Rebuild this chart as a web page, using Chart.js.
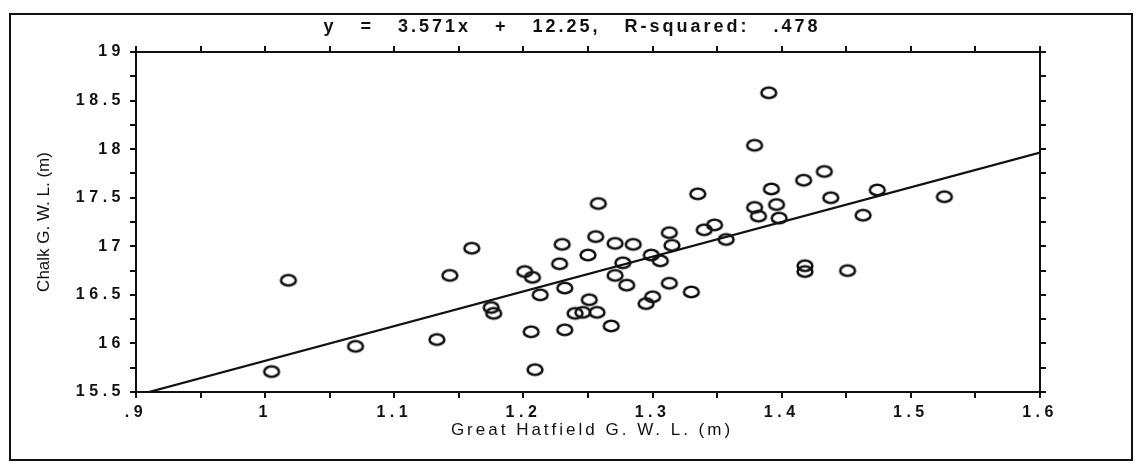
<!DOCTYPE html>
<html>
<head>
<meta charset="utf-8">
<script src="https://cdn.jsdelivr.net/npm/chart.js@4.4.1/dist/chart.umd.min.js"></script>
<style>
html,body{margin:0;padding:0;background:#fff;}
#wrap{position:relative;width:1137px;height:468px;}
#marco{position:absolute;left:9px;top:13px;width:1120px;height:444px;border:2px solid #111;}
#grafica{position:absolute;left:0;top:0;}
</style>
</head>
<body>
<div id="wrap">
  <div id="marco"></div>
  <canvas id="grafica" width="1137" height="468"></canvas>
</div>
<script>
// niveles
var gwlHatfield = [1.005,1.018,1.070,1.133,1.143,1.160,1.175,1.177,1.201,1.207,1.213,1.206,1.209,1.228,1.230,1.232,1.232,1.250,1.251,1.240,1.246,1.257,1.258,1.256,1.271,1.285,1.277,1.271,1.280,1.268,1.299,1.306,1.295,1.300,1.313,1.315,1.313,1.330,1.335,1.340,1.348,1.357,1.379,1.390,1.379,1.382,1.392,1.396,1.398,1.417,1.433,1.438,1.418,1.418,1.451,1.463,1.474,1.526];
var gwlChalk = [15.71,16.65,15.97,16.04,16.70,16.98,16.37,16.31,16.74,16.68,16.50,16.12,15.73,16.82,17.02,16.57,16.14,16.91,16.45,16.31,16.32,16.32,17.44,17.10,17.03,17.02,16.83,16.70,16.60,16.18,16.91,16.85,16.41,16.48,17.14,17.01,16.62,16.53,17.54,17.17,17.22,17.07,18.04,18.58,17.40,17.31,17.59,17.43,17.29,17.68,17.77,17.50,16.80,16.74,16.75,17.32,17.58,17.51];

// recta de ajuste (extremos)
var ajusteX = [0.9, 1.6];
var ajusteY = [15.464, 17.964];

var xTickLabels = ['.9','1','1.1','1.2','1.3','1.4','1.5','1.6'];
var yTickLabels = ['15.5','16','16.5','17','17.5','18','18.5','19'];

var titulo = 'y = 3.571x + 12.25, R-squared: .478';
var tituloX = 'Great Hatfield G. W. L. (m)';
var tituloY = 'Chalk G. W. L. (m)';

var negro = '#111';

function circulo_hueco() {
    var c = document.createElement('canvas');
    c.width = 20; c.height = 16;
    var g = c.getContext('2d');
    g.strokeStyle = negro;
    g.lineWidth = 2.6;
    g.beginPath();
    g.ellipse(10, 8, 7.4, 5.2, 0, 0, Math.PI * 2);
    g.stroke();
    return c;
}

function etiqueta_x(value) {
    var k = Math.round(value * 20);
    if (k % 2 !== 0) return '';
    return xTickLabels[(k - 18) / 2] || '';
}

function etiqueta_y(value) {
    var k = Math.round(value * 4);
    if (k % 2 !== 0) return '';
    return yTickLabels[(k - 62) / 2] || '';
}

var rotulos = {
    id: 'rotulos',
    beforeDraw: function(chart) {
        chart.ctx.letterSpacing = '4.5px';
    },
    afterDraw: function(chart) {
        var c = chart.ctx, area = chart.chartArea;
        c.save();
        c.fillStyle = negro;
        c.textAlign = 'center';
        c.textBaseline = 'middle';
        c.font = 'bold 18px "Liberation Sans", Arial, sans-serif';
        c.letterSpacing = '3px';
        c.fillText(titulo.split(' ').join('   '), 572, 27);
        c.font = '17px "Liberation Sans", Arial, sans-serif';
        c.fillText(tituloX, (area.left + area.right) / 2 + 4, 430);
        c.letterSpacing = '0px';
        c.translate(44, (area.top + area.bottom) / 2);
        c.rotate(-Math.PI / 2);
        c.fillText(tituloY, 0, 0);
        c.restore();
    }
};

function eje(posicion, min, max, paso, callback, tamano) {
    var horizontal = (posicion === 'top' || posicion === 'bottom');
    return {
        type: 'linear',
        position: posicion,
        min: min,
        max: max,
        ticks: {
            stepSize: paso,
            autoSkip: false,
            maxRotation: 0,
            minRotation: 0,
            color: negro,
            padding: 5,
            font: { family: '"Liberation Sans", Arial, sans-serif', size: 16, weight: 'bold' },
            callback: callback
        },
        grid: {
            drawOnChartArea: false,
            drawTicks: true,
            tickLength: 6,
            color: negro,
            lineWidth: 2
        },
        border: { color: negro, width: 2 },
        afterFit: function(scale) {
            if (horizontal) scale.height = tamano; else scale.width = tamano;
        }
    };
}

function grafica_dispersion(grafica) {
    var puntos = gwlHatfield.map(function(x, i) { return { x: x, y: gwlChalk[i] }; });
    var recta = ajusteX.map(function(x, i) { return { x: x, y: ajusteY[i] }; });

    var ctxdispersion = new Chart(grafica, {
        type: 'scatter',
        data: {
            datasets: [{
                label: 'Chalk vs Great Hatfield',
                data: puntos,
                pointStyle: circulo_hueco(),
                pointRadius: 8,
                pointHoverRadius: 8
            }, {
                label: 'Ajuste',
                data: recta,
                showLine: true,
                borderColor: negro,
                borderWidth: 2.2,
                pointRadius: 0,
                clip: 0
            }]
        },
        options: {
            responsive: false,
            animation: false,
            layout: { padding: 0 },
            plugins: {
                legend: { display: false },
                tooltip: { enabled: false }
            },
            scales: {
                x: eje('bottom', 0.9, 1.6, 0.05, etiqueta_x, 76),
                x2: eje('top', 0.9, 1.6, 0.05, function() { return ''; }, 52),
                y: eje('left', 15.5, 19, 0.25, etiqueta_y, 136),
                y2: eje('right', 15.5, 19, 0.25, function() { return ''; }, 97)
            }
        },
        plugins: [rotulos]
    });
    return ctxdispersion;
}

grafica_dispersion(document.getElementById('grafica'));
</script>
</body>
</html>
